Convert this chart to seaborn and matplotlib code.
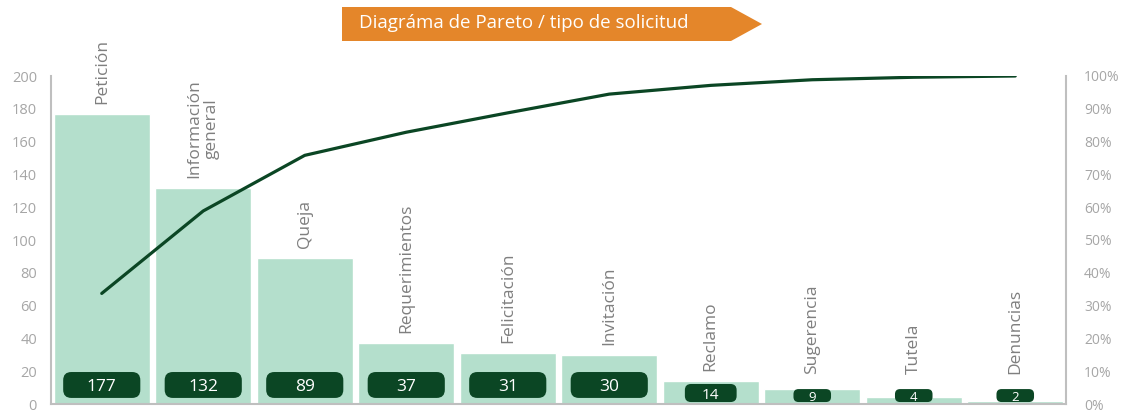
import numpy as np
import pandas as pd
import matplotlib
matplotlib.use("Agg")
import matplotlib.pyplot as plt
import seaborn as sns
from matplotlib.patches import FancyBboxPatch, Polygon

sns.set_style("white")
plt.rcParams["font.family"] = ["Open Sans", "DejaVu Sans"]

# data
categories = ["Petición", "Información\ngeneral", "Queja", "Requerimientos",
              "Felicitación", "Invitación", "Reclamo", "Sugerencia",
              "Tutela", "Denuncias"]
counts = [177, 132, 89, 37, 31, 30, 14, 9, 4, 2]
title = "Diagráma de Pareto / tipo de solicitud"

df = pd.DataFrame({"tipo": categories, "n": counts})
df["acum"] = df["n"].cumsum() / df["n"].sum() * 100

bar_color = "#b4dfcc"
dark = "#0b4624"
orange = "#e4862a"
tick_grey = "#a6a6a6"
label_grey = "#7f7f7f"
spine_grey = "#bfbfbf"

W, H = 1123, 413
fig = plt.figure(figsize=(W / 100, H / 100), dpi=100)
ax = fig.add_axes([51 / W, 1 - 404 / H, (1066 - 51) / W, (404 - 76) / H])

sns.barplot(data=df, x="tipo", y="n", color=bar_color, width=0.95,
            saturation=1, ax=ax)
ax.set_xlim(-0.5, len(df) - 0.5)
ax.set_ylim(0, 200)
ax.set_yticks(range(0, 201, 20))
ax.set_xticks([])
ax.set_xlabel("")
ax.set_ylabel("")
ax.tick_params(axis="y", length=0, pad=10, labelsize=10.5, labelcolor=tick_grey)
for s in ["top", "right"]:
    ax.spines[s].set_visible(False)
for s in ["left", "bottom"]:
    ax.spines[s].set_color(spine_grey)
    ax.spines[s].set_linewidth(1.5)

# cumulative line on the right axis
ax2 = ax.twinx()
sns.lineplot(x=np.arange(len(df)), y=df["acum"], color=dark, linewidth=2.3, ax=ax2)
ax2.set_ylim(0, 100)
ax2.set_yticks(range(0, 101, 10))
ax2.set_yticklabels([f"{t}%" for t in range(0, 101, 10)])
ax2.set_ylabel("")
ax2.tick_params(axis="y", length=0, pad=13, labelsize=10, labelcolor=tick_grey)
for s in ["top", "left", "bottom"]:
    ax2.spines[s].set_visible(False)
ax2.spines["right"].set_color(spine_grey)
ax2.spines["right"].set_linewidth(1.5)

# category labels above bars
for i, (cat, v) in enumerate(zip(df["tipo"], df["n"])):
    ax.text(i, max(v, 12) + 6, cat, rotation=90, ha="center", va="bottom",
            ma="center", fontsize=12.5, color=label_grey, linespacing=1.15,
            clip_on=False)

# value boxes
fig.canvas.draw()
p0 = ax.transData.transform((0, 0))
p1 = ax.transData.transform((1, 1))
aspect = (p1[0] - p0[0]) / (p1[1] - p0[1])
for i, v in enumerate(df["n"]):
    if v >= 30:
        bw, y0, bh, fs, r = 0.76, 3.7, 15.8, 12.5, 0.08
    elif v >= 10:
        bw, y0, bh, fs, r = 0.51, 1.2, 11.0, 11, 0.06
    else:
        bw, y0, bh, fs, r = 0.37, 1.2, 7.9, 9.5, 0.05
    box = FancyBboxPatch((i - bw / 2, y0), bw, bh,
                         boxstyle=f"round,pad=0,rounding_size={r}",
                         mutation_aspect=aspect, facecolor=dark,
                         edgecolor="none", zorder=5)
    ax.add_patch(box)
    ax.text(i, y0 + bh / 2, str(v), ha="center", va="center_baseline",
            color="white", fontsize=fs, zorder=6)

# title banner
pts = [(342, 7), (731, 7), (762, 24), (731, 41), (342, 41)]
banner = Polygon([(x / W, 1 - y / H) for x, y in pts], closed=True,
                 transform=fig.transFigure, facecolor=orange, edgecolor="none")
fig.patches.append(banner)
fig.text(359 / W, 1 - 23 / H, title, ha="left", va="center", color="white",
         fontsize=13.5)

fig.savefig("out.png", dpi=100)
